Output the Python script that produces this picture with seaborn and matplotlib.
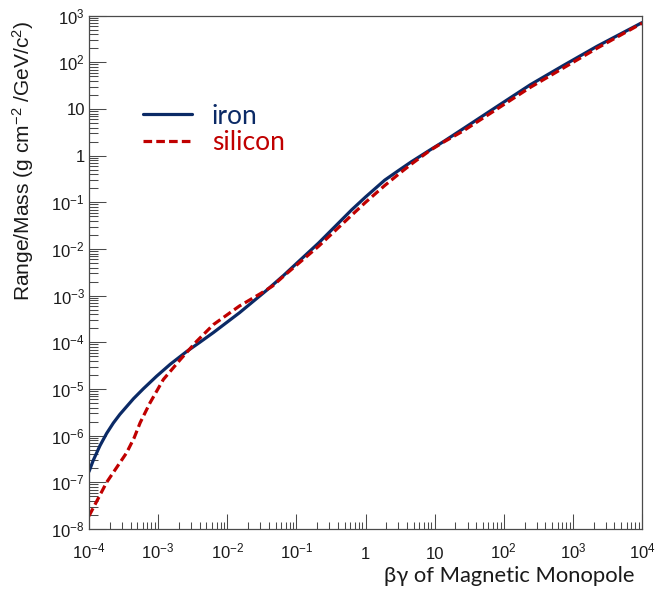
import matplotlib
matplotlib.use("Agg")
import matplotlib.pyplot as plt
import numpy as np
import pandas as pd
import seaborn as sns
from matplotlib.ticker import FixedLocator, LogLocator, FuncFormatter, NullFormatter

# Range/Mass of a magnetic monopole versus beta*gamma
iron_bg = [1.0e-4, 1.15e-4, 1.44e-4, 1.8e-4, 2.25e-4, 2.8e-4, 4.4e-4, 6.1e-4, 9.5e-4,
           1.5e-3, 2.6e-3, 4.0e-3, 6.3e-3, 1.5e-2, 3.7e-2, 6.5e-2, 0.21, 0.63, 1.0,
           1.9, 3.0, 4.6, 8.6, 13.4, 26, 79, 241, 731, 2223, 1e4]
iron_rm = [1.7e-7, 2.94e-7, 6.1e-7, 1.12e-6, 1.87e-6, 2.87e-6, 6.2e-6, 1.01e-5, 1.88e-5,
           3.4e-5, 6.4e-5, 1.0e-4, 1.62e-4, 4.3e-4, 1.3e-3, 2.7e-3, 0.0135, 0.069, 0.13,
           0.30, 0.48, 0.74, 1.33, 2.0, 3.8, 11.2, 33, 86, 220, 710]

silicon_bg = [1.0e-4, 1.8e-4, 3.5e-4, 4.5e-4, 5.5e-4, 7.6e-4, 1.19e-3, 2.1e-3, 3.6e-3,
              6.3e-3, 1.5e-2, 3.0e-2, 4.5e-2, 6.5e-2, 0.21, 0.63, 1.0, 1.9, 3.0, 4.6,
              8.6, 13.4, 26, 79, 241, 731, 2223, 1e4]
silicon_rm = [1.9e-8, 1.0e-7, 4.3e-7, 9.0e-7, 1.9e-6, 5.0e-6, 1.6e-5, 4.3e-5, 1.05e-4,
              2.4e-4, 6.0e-4, 1.1e-3, 1.6e-3, 2.6e-3, 0.0115, 0.053, 0.10, 0.23, 0.40,
              0.66, 1.3, 1.95, 3.4, 9.9, 29, 76, 200, 690]

x_exponents = list(range(-4, 5))
y_exponents = list(range(-8, 4))

NAVY = "#0b2a66"
RED = "#c00000"
FRAME = "#4a4a4a"

df = pd.concat([
    pd.DataFrame({"bg": iron_bg, "rm": iron_rm, "material": "iron"}),
    pd.DataFrame({"bg": silicon_bg, "rm": silicon_rm, "material": "silicon"}),
], ignore_index=True)

sns.set_theme(style="white")
plt.rcParams["font.family"] = ["Liberation Sans", "DejaVu Sans"]
plt.rcParams["mathtext.fontset"] = "custom"
plt.rcParams["mathtext.rm"] = "Liberation Sans"
plt.rcParams["mathtext.it"] = "Liberation Sans:italic"
plt.rcParams["mathtext.bf"] = "Liberation Sans:bold"

fig = plt.figure(figsize=(6.57, 5.91), dpi=100)
W, H = 657, 591
ax = fig.add_axes([89 / W, 1 - 529 / H, 553 / W, 513.3 / H])

sns.lineplot(data=df, x="bg", y="rm", hue="material", style="material",
             palette={"iron": NAVY, "silicon": RED},
             dashes={"iron": "", "silicon": (2.7, 1.3)},
             estimator=None, sort=False, linewidth=2.3, ax=ax)

ax.set_xscale("log")
ax.set_yscale("log")
ax.set_xlim(1e-4, 1e4)
ax.set_ylim(1e-8, 1e3)


def pow_label(e):
    if e == 0:
        return "1"
    if e == 1:
        return "10"
    return r"$10^{%d}$" % e


ax.xaxis.set_major_locator(FixedLocator([10.0 ** e for e in x_exponents]))
ax.yaxis.set_major_locator(FixedLocator([10.0 ** e for e in y_exponents]))
ax.xaxis.set_major_formatter(FuncFormatter(lambda v, p: pow_label(int(round(np.log10(v))))))
ax.yaxis.set_major_formatter(FuncFormatter(lambda v, p: pow_label(int(round(np.log10(v))))))
ax.xaxis.set_minor_locator(LogLocator(base=10, subs=np.arange(2, 10), numticks=100))
ax.yaxis.set_minor_locator(LogLocator(base=10, subs=np.arange(2, 10), numticks=100))
ax.xaxis.set_minor_formatter(NullFormatter())
ax.yaxis.set_minor_formatter(NullFormatter())

ax.tick_params(which="both", direction="in", bottom=True, left=True, top=False, right=False,
               color=FRAME, width=0.75, labelsize=12, labelcolor="#1a1a1a")
ax.tick_params(axis="x", which="major", length=10.8, pad=21.3)
ax.tick_params(axis="x", which="minor", length=5.0)
ax.tick_params(axis="y", which="major", length=12.0, pad=3)
ax.tick_params(axis="y", which="minor", length=6.5)
for lbl in ax.get_xticklabels():
    lbl.set_verticalalignment("baseline")

for side in ["left", "right", "top", "bottom"]:
    ax.spines[side].set_visible(True)
    ax.spines[side].set_color(FRAME)
    ax.spines[side].set_linewidth(0.9)
ax.grid(False)

ax.set_xlabel(r"βγ of Magnetic Monopole", fontsize=15.8,
              family=["Lato", "Open Sans", "DejaVu Sans"], color="#1a1a1a",
              ha="right", va="baseline")
ax.xaxis.set_label_coords((634 - 89) / 553, (529 - 582) / 513.3)
ax.set_ylabel(r"Range/Mass (g cm$^{-2}$ /GeV/c$^{2}$)", fontsize=15.1,
              color="#1a1a1a", va="center", ha="center")
ax.yaxis.set_label_coords((23 - 89) / 553, (529 - 161) / 513.3)

old = ax.get_legend()
if old is not None:
    old.remove()
handles = [
    plt.Line2D([], [], color=NAVY, lw=2.3),
    plt.Line2D([], [], color=RED, lw=2.3, dashes=(2.7, 1.3)),
]
leg = ax.legend(handles, ["iron", "silicon"], loc="center left",
                bbox_to_anchor=(143.3 / W, 1 - 129.2 / H), bbox_transform=fig.transFigure,
                frameon=False, borderpad=0, borderaxespad=0,
                handlelength=1.85, handletextpad=0.75, labelspacing=0.05,
                labelcolor=[NAVY, RED],
                prop={"family": ["Lato", "Open Sans", "DejaVu Sans"], "size": 19})

fig.savefig("out.png", dpi=100)
